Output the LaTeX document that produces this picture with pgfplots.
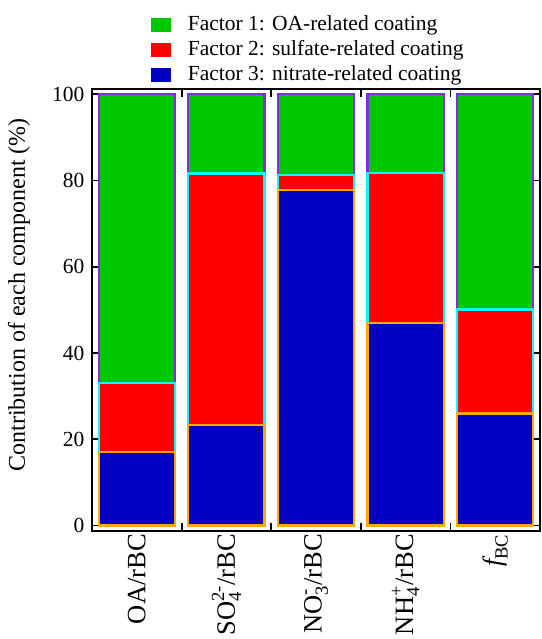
\documentclass[border=0pt]{standalone}
\usepackage{pgfplots}
\pgfplotsset{compat=1.18}
\usepackage{amsmath}
\usepackage{fontspec}
\setmainfont{Liberation Serif}
\definecolor{fgreen}{RGB}{0,200,0}
\definecolor{fred}{RGB}{255,0,0}
\definecolor{fblue}{RGB}{0,0,195}
\definecolor{forange}{RGB}{255,170,0}
\definecolor{fcyan}{RGB}{0,255,255}
\definecolor{fpurple}{RGB}{135,40,230}
\begin{document}
\begin{tikzpicture}
\path[use as bounding box] (-92pt,-108.3pt) rectangle (449pt,530.7pt);
\begin{axis}[
  at={(0,0)}, anchor=south west,
  scale only axis, width=448pt, height=441.7pt,
  xmin=-0.5, xmax=4.5, ymin=-1.2, ymax=101.2,
  ybar stacked, bar width=0.85,
  axis line style={line width=2pt, black},
  tick align=inside,
  tick style={line width=1.8pt, black},
  major tick length=8pt,
  xtick={0.5,1.5,2.5,3.5}, xticklabels={},
  extra x ticks={0,1,2,3,4},
  extra x tick labels={OA/rBC, $\text{SO}_{\text{4}}^{\text{2-}}$/rBC, $\text{NO}_{\text{3}}^{\text{-}}$/rBC, $\text{NH}_{\text{4}}^{\text{+}}$/rBC, $\textit{f}_{\text{BC}}$},
  extra x tick style={major tick length=0pt},
  xticklabel style={rotate=90, anchor=east, font=\fontsize{26.5}{30}\selectfont},
  ytick={0,20,40,60,80,100},
  yticklabel style={font=\fontsize{21.5}{25}\selectfont, xshift=-4pt},
  /pgf/number format/assume math mode=true,
  ylabel={Contribution of each component (\%)},
  ylabel style={at={(axis description cs:-0.163,0.534)}, anchor=center, font=\fontsize{24}{28}\selectfont},
  reverse legend,
  legend image code/.code={\fill[#1,draw=none] (0pt,-7pt) rectangle (20pt,7pt);},
  legend style={at={(axis description cs:0.131,1.1675)}, anchor=north west, draw=none, inner sep=0pt,
    font=\fontsize{21.5}{25}\selectfont, column sep=17pt, row sep=5pt,
    nodes={inner sep=0pt, text height=15pt, text depth=5pt}},
  legend cell align=left,
]
\addplot[fill=fblue, draw=forange, line width=2.3pt] coordinates {(0,17.0) (1,23.3) (2,77.8) (3,47.0) (4,26.0)};
\addplot[fill=fred, draw=fcyan, line width=2.3pt] coordinates {(0,16.0) (1,58.3) (2,3.4) (3,34.8) (4,24.1)};
\addplot[fill=fgreen, draw=fpurple, line width=2.3pt] coordinates {(0,67.0) (1,18.4) (2,18.8) (3,18.2) (4,49.9)};
\legend{Factor 3: nitrate-related coating, Factor 2: sulfate-related coating, Factor 1: OA-related coating}
\end{axis}
\end{tikzpicture}
\end{document}
